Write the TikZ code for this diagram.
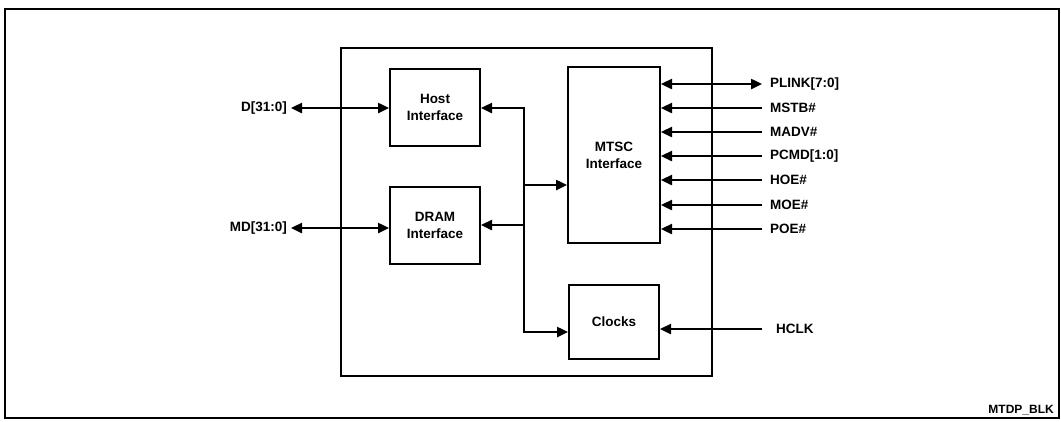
\documentclass[tikz,border=0pt]{standalone}
\usepackage{fontspec}
\setmainfont{Liberation Sans}
\usetikzlibrary{arrows.meta}

\begin{document}
\begin{tikzpicture}[x=1pt, y=-1pt, >={Triangle[length=11pt,width=10pt]},
    bloco/.style={draw, line width=2pt, align=center, inner sep=0pt,
        font=\fontsize{13.5}{17}\selectfont\bfseries},
    sinal/.style={line width=2.4pt},
    rotulo/.style={inner sep=4pt, font=\fontsize{13.5}{15}\selectfont\bfseries}]

    \useasboundingbox (0,0) rectangle (1061,421);

    % Moldura externa e caixa do componente
    \draw[line width=1.8pt] (5,9) rectangle (1059,418);
    \draw[line width=2pt] (341,48) rectangle (712,376);

    % 1. Blocos internos
    \node[bloco, minimum width=90pt, minimum height=77pt] (host) at (435,107.5) {Host\\Interface};
    \node[bloco, minimum width=90pt, minimum height=77pt] (dram) at (435,225.5) {DRAM\\Interface};
    \node[bloco, minimum width=92pt, minimum height=176pt] (mtsc) at (614,155) {MTSC\\Interface};
    \node[bloco, minimum width=90pt, minimum height=74pt] (clocks) at (614,322) {Clocks};

    % 2. Barramentos do lado esquerdo
    \node[rotulo, anchor=east] (d) at (291,108) {D[31:0]};
    \node[rotulo, anchor=east] (md) at (291,228) {MD[31:0]};
    \draw[sinal, <->] (d.east) -- (d.east -| host.west);
    \draw[sinal, <->] (md.east) -- (md.east -| dram.west);

    % 3. Barramento interno (liga os blocos)
    \coordinate (btopo) at (524,108);
    \coordinate (bmtsc) at (524,185);
    \coordinate (bdram) at (524,225);
    \coordinate (bbase) at (524,332);
    \draw[sinal, <->] (btopo -| host.east) -- (btopo) -- (bbase) -- (bbase -| clocks.west);
    \draw[sinal, ->] (bdram) -- (bdram -| dram.east);
    \draw[sinal, ->] (bmtsc) -- (bmtsc -| mtsc.west);

    % 4. Sinais do lado direito
    \node[rotulo, anchor=west] (plink) at (766,84) {PLINK[7:0]};
    \node[rotulo, anchor=west] (mstb) at (766,108) {MSTB\#};
    \node[rotulo, anchor=west] (madv) at (766,132) {MADV\#};
    \node[rotulo, anchor=west] (pcmd) at (766,156) {PCMD[1:0]};
    \node[rotulo, anchor=west] (hoe) at (766,180) {HOE\#};
    \node[rotulo, anchor=west] (moe) at (766,205) {MOE\#};
    \node[rotulo, anchor=west] (poe) at (766,229) {POE\#};
    \node[rotulo, anchor=west] (hclk) at (772,329) {HCLK};

    \draw[sinal, <->] (plink -| mtsc.east) -- ([xshift=-4pt]plink.west);
    \draw[sinal, ->] ([xshift=-4pt]mstb.west) -- (mstb -| mtsc.east);
    \draw[sinal, ->] ([xshift=-4pt]madv.west) -- (madv -| mtsc.east);
    \draw[sinal, ->] ([xshift=-4pt]pcmd.west) -- (pcmd -| mtsc.east);
    \draw[sinal, ->] ([xshift=-4pt]hoe.west) -- (hoe -| mtsc.east);
    \draw[sinal, ->] ([xshift=-4pt]moe.west) -- (moe -| mtsc.east);
    \draw[sinal, ->] ([xshift=-4pt]poe.west) -- (poe -| mtsc.east);
    \draw[sinal, ->] ([xshift=-10pt]hclk.west) -- (hclk -| clocks.east);

    % 5. Identificador da figura
    \node[rotulo, anchor=south east, inner sep=3pt, font=\fontsize{12}{14}\selectfont\bfseries] (id) at (1057,418) {MTDP\_BLK};

\end{tikzpicture}
\end{document}
